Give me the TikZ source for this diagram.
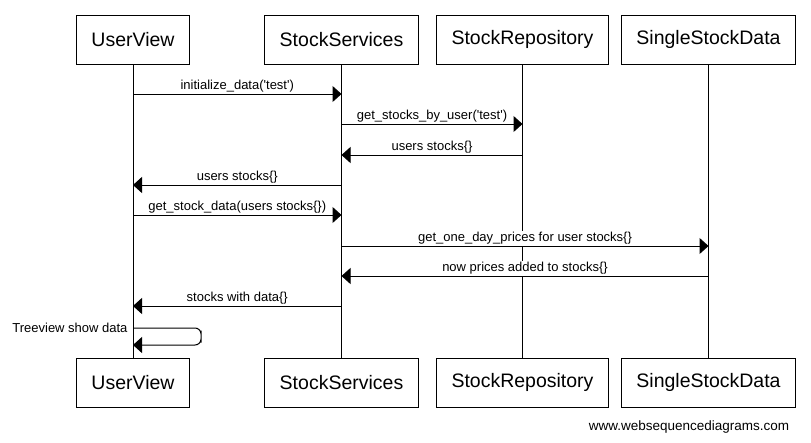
\documentclass[tikz,border=0pt]{standalone}
\usepackage{fontspec}
\setmainfont{Liberation Sans}[Ligatures=TeXOff]
\usetikzlibrary{arrows.meta}
\begin{document}
\begin{tikzpicture}[x=1pt, y=-1pt, line width=1pt, node distance=343pt,
	actor/.style={draw, minimum height=49pt, inner xsep=15pt, font=\fontsize{19.5}{22}\selectfont},
	msg/.style={-{Triangle[length=9pt,width=16pt]}},
	lbl/.style={fill=white, inner sep=1pt, font=\fontsize{13}{15}\selectfont}]
	\useasboundingbox[fill=white] (0,0) rectangle (811,442);
	\node[actor] (uvT) at (133,39.5) {UserView};
	\node[actor] (ssT) at (341.5,39.5) {StockServices};
	\node[actor] (srT) at (522.5,39.5) {StockRepository};
	\node[actor] (sdT) at (708.5,39.5) {SingleStockData};
	\node[actor, below of = uvT] (uvB) {UserView};
	\node[actor, below of = ssT] (ssB) {StockServices};
	\node[actor, below of = srT] (srB) {StockRepository};
	\node[actor, below of = sdT] (sdB) {SingleStockData};
	\draw (uvT) -- (uvB);
	\draw (ssT) -- (ssB);
	\draw (srT) -- (srB);
	\draw (sdT) -- (sdB);
	\draw[msg] (uvT |- 0,94) -- node[lbl, above]{initialize\_data('test')} (ssT |- 0,94);
	\draw[msg] (ssT |- 0,124) -- node[lbl, above]{get\_stocks\_by\_user('test')} (srT |- 0,124);
	\draw[msg] (srT |- 0,155) -- node[lbl, above]{users stocks\{\}} (ssT |- 0,155);
	\draw[msg] (ssT |- 0,185) -- node[lbl, above]{users stocks\{\}} (uvT |- 0,185);
	\draw[msg] (uvT |- 0,215) -- node[lbl, above]{get\_stock\_data(users stocks\{\})} (ssT |- 0,215);
	\draw[msg] (ssT |- 0,246) -- node[lbl, above]{get\_one\_day\_prices for user stocks\{\}} (sdT |- 0,246);
	\draw[msg] (sdT |- 0,276) -- node[lbl, above]{now prices added to stocks\{\}} (ssT |- 0,276);
	\draw[msg] (ssT |- 0,306) -- node[lbl, above]{stocks with data\{\}} (uvT |- 0,306);
	\coordinate (loop) at (201,336.5);
	\draw[msg, rounded corners=6pt] (uvT |- 0,328) node[lbl, left=4pt, fill=none]{Treeview show data} -| (loop) |- (uvT |- 0,345);
	\node[font=\fontsize{13.5}{16}\selectfont, anchor=east] (site) at (793,427) {www.websequencediagrams.com};
\end{tikzpicture}
\end{document}
